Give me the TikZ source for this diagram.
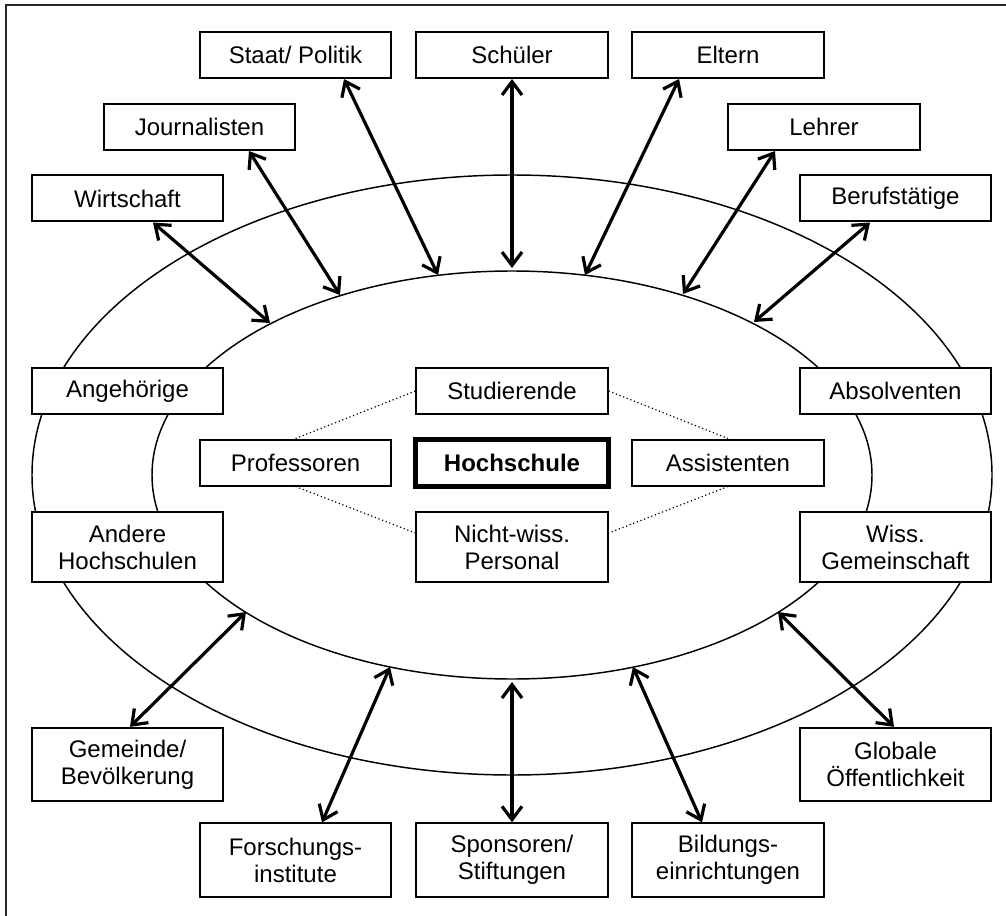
\documentclass[tikz,border=0pt]{standalone}
\usepackage{fontspec}
\setmainfont{Liberation Sans}
\usetikzlibrary{arrows.meta}
\begin{document}
\begin{tikzpicture}[x=0.75pt,y=-0.75pt,
  box/.style={draw,fill=white,line width=1.5pt,minimum width=143.5pt,minimum height=34.5pt,inner sep=0pt,align=center,font=\fontsize{18}{20.25}\selectfont},
  box2/.style={box,minimum height=53pt},
  box3/.style={box,minimum height=55pt},
  hsbox/.style={box,line width=3.75pt,minimum width=144.75pt,minimum height=35.25pt,font=\fontsize{18}{20.25}\selectfont\bfseries},
  link/.style={line width=2.4pt,{Straight Barb[length=10pt,width=15pt]}-{Straight Barb[length=10pt,width=15pt]}},
  ring/.style={line width=1.1pt},
  dots/.style={dotted,line width=0.9pt}]
\useasboundingbox (0,0) rectangle (1006,916);
% frame (top and left only)
\draw[line width=1.6pt,black!85] (6,916) -- (6,5) -- (1006,5);
% ellipses
\draw[ring] (512,475) ellipse [x radius=360pt, y radius=225pt];
\draw[ring] (512,475) ellipse [x radius=270pt, y radius=153pt];
% endpoints on inner ellipse
\coordinate (e1) at (270,323);
\coordinate (e2) at (340,295);
\coordinate (e3) at (438,275);
\coordinate (e4) at (512,268);
\coordinate (e5) at (585,275);
\coordinate (e6) at (683,294);
\coordinate (e7) at (754,322);
\coordinate (e8) at (246,612);
\coordinate (e9) at (390,667);
\coordinate (e10) at (512,682);
\coordinate (e11) at (633,667);
\coordinate (e12) at (778,612);
% boxes
\node[box] (staat) at (295.5,55) {Staat/ Politik};
\node[box] (schueler) at (512,55) {Schüler};
\node[box] (eltern) at (728,55) {Eltern};
\node[box] (journ) at (199.5,127) {Journalisten};
\node[box] (lehrer) at (824,127) {Lehrer};
\node[box] (wirt) at (127.5,198.5) {Wirtschaft};
\node[box] (beruf) at (895.5,198.5) {Berufstätige};
\node[box] (angeh) at (127.5,391) {Angehörige};
\node[box] (absol) at (895.5,391) {Absolventen};
\node[box] (prof) at (295.5,462.5) {Professoren};
\node[box] (studi) at (512,391) {Studierende};
\node[hsbox] (hoch) at (512,463) {Hochschule};
\node[box] (assist) at (728,462.5) {Assistenten};
\node[box2] (nicht) at (512,547) {Nicht-wiss.\\Personal};
\node[box2] (andere) at (127.5,547) {Andere\\Hochschulen};
\node[box2] (wiss) at (895.5,547) {Wiss.\\Gemeinschaft};
\node[box3] (gemeinde) at (127.5,764.5) {Gemeinde/\\Bevölkerung};
\node[box3] (globale) at (895.5,764.5) {Globale\\Öffentlichkeit};
\node[box3] (forsch) at (295.5,860) {Forschungs-\\institute};
\node[box3] (sponsor) at (512,860) {Sponsoren/\\Stiftungen};
\node[box3] (bildung) at (728,860) {Bildungs-\\einrichtungen};
% arrows
\draw[link] (wirt.south -| 153,0) -- (e1);
\draw[link] (journ.south -| 249,0) -- (e2);
\draw[link] (staat.south -| 344,0) -- (e3);
\draw[link] (schueler.south) -- (e4);
\draw[link] (eltern.south -| 679,0) -- (e5);
\draw[link] (lehrer.south -| 775,0) -- (e6);
\draw[link] (beruf.south -| 870,0) -- (e7);
\draw[link] (gemeinde.north -| 130,0) -- (e8);
\draw[link] (forsch.north -| 322,0) -- (e9);
\draw[link] (sponsor.north) -- (e10);
\draw[link] (bildung.north -| 702,0) -- (e11);
\draw[link] (globale.north -| 894,0) -- (e12);
% dotted links
\draw[dots] (prof.north) -- (studi.west);
\draw[dots] (studi.east) -- (assist.north);
\draw[dots] (prof.south) -- (nicht.west |- 0,533);
\draw[dots] (assist.south) -- (nicht.east |- 0,533);
\end{tikzpicture}
\end{document}
